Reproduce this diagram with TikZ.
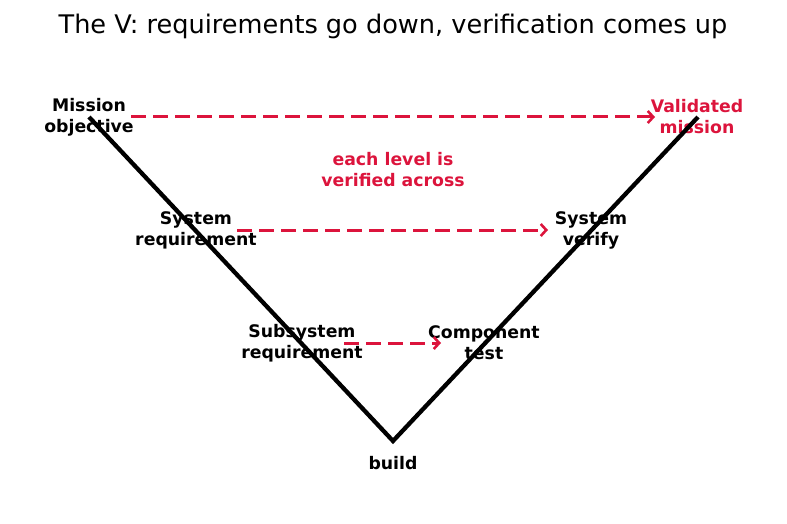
\documentclass[tikz,border=0pt]{standalone}
\usepackage{fontspec}
\setmainfont{DejaVu Sans}
\usetikzlibrary{arrows.meta}
\definecolor{vcrim}{RGB}{220,20,60}
\begin{document}
\begin{tikzpicture}[x=1pt,y=-1pt,
  lbl/.style={align=center,inner sep=0pt,font=\bfseries\fontsize{17.3}{21}\selectfont},
  vline/.style={line width=4.3pt,black,line join=miter},
  across/.style={vcrim,line width=3pt,dash pattern=on 15pt off 7pt,
    -{Straight Barb[length=5.5pt,width=12pt,line width=2.6pt]}}]
\useasboundingbox (0,0) rectangle (787,524);
\node[inner sep=0pt,font=\fontsize{25.6}{30}\selectfont] (title) at (393,26) {The V: requirements go down, verification comes up};
\node[lbl] (mo) at (89,117) {Mission\\objective};
\node[lbl] (sr) at (196,230) {System\\requirement};
\node[lbl] (ssr) at (302,343) {Subsystem\\requirement};
\node[lbl] (ct) at (484,343) {Component\\test};
\node[lbl] (sv) at (591,230) {System\\verify};
\node[lbl,vcrim] (vm) at (697,117) {Validated\\mission};
\node[lbl] (b) at (393,463) {build};
\node[lbl,vcrim] (note) at (393,170) {each level is\\verified across};
\coordinate (top1) at (89,117);
\coordinate (bot) at (393,441);
\coordinate (top2) at (698,117);
\draw[vline] (top1) -- (bot) -- (top2);
\coordinate (a1s) at (131,117); \coordinate (a1e) at (655,117);
\coordinate (a2s) at (237,230); \coordinate (a2e) at (548,230);
\coordinate (a3s) at (344,343); \coordinate (a3e) at (441,343);
\draw[across] (a1s) -- (a1e);
\draw[across] (a2s) -- (a2e);
\draw[across] (a3s) -- (a3e);
\end{tikzpicture}
\end{document}
